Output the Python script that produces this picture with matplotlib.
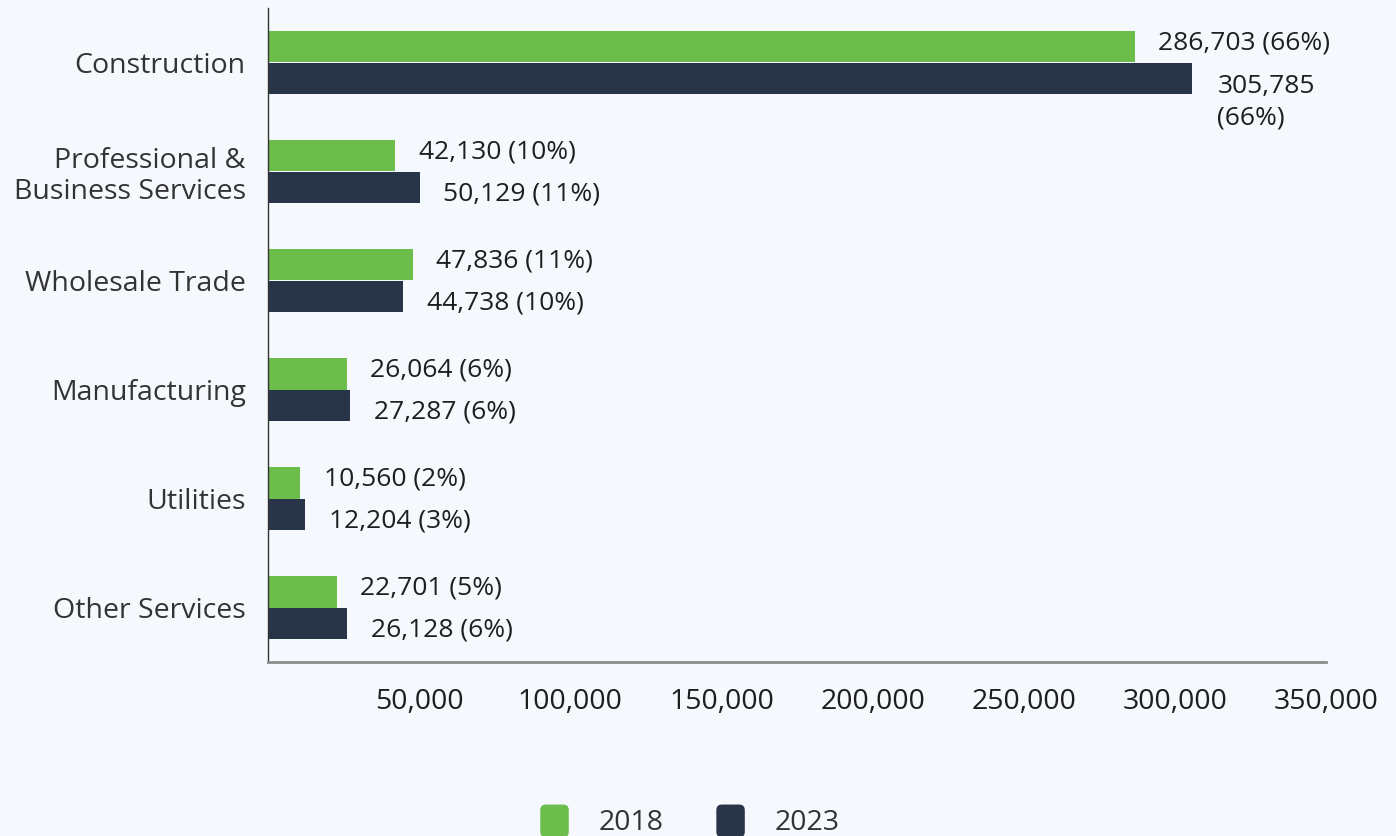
import matplotlib
matplotlib.use("Agg")
import matplotlib.pyplot as plt
import numpy as np
from matplotlib.patches import Patch, FancyBboxPatch
from matplotlib.legend_handler import HandlerPatch

categories = ["Construction", "Professional &\nBusiness Services", "Wholesale Trade",
              "Manufacturing", "Utilities", "Other Services"]
values_2018 = [286703, 42130, 47836, 26064, 10560, 22701]
values_2023 = [305785, 50129, 44738, 27287, 12204, 26128]
pct_2018 = [66, 10, 11, 6, 2, 5]
pct_2023 = [66, 11, 10, 6, 3, 6]
x_ticks = [50000, 100000, 150000, 200000, 250000, 300000, 350000]
series_names = ["2018", "2023"]

GREEN = "#6cbd4b"
NAVY = "#283447"
BG = "#f5f9fe"

plt.rcParams["font.family"] = ["Open Sans", "DejaVu Sans"]


class RoundedHandler(HandlerPatch):
    def create_artists(self, legend, orig_handle, xdescent, ydescent, width, height, fontsize, trans):
        p = FancyBboxPatch((-xdescent, -ydescent), width, height,
                           boxstyle="round,pad=0,rounding_size=4",
                           facecolor=orig_handle.get_facecolor(), edgecolor="none",
                           transform=trans)
        return [p]


fig = plt.figure(figsize=(13.96, 8.36), dpi=100, facecolor=BG)
ax = fig.add_axes([268 / 1396, 1 - 662 / 836, (1326 - 268) / 1396, (662 - 8) / 836])
ax.set_facecolor(BG)

y = np.arange(len(categories))
h = 0.285
ax.barh(y - h / 2, values_2018, height=h, color=GREEN, label=series_names[0])
ax.barh(y + h / 2, values_2023, height=h, color=NAVY, label=series_names[1])

ax.set_xlim(0, 350000)
ax.set_ylim(len(categories) - 0.5, -0.5)

# value labels to the right of each bar
label_kw = dict(textcoords="offset points", ha="left", fontsize=19, color="#1e1e1e")
for i in range(len(categories)):
    ax.annotate(f"{values_2018[i]:,} ({pct_2018[i]}%)", (values_2018[i], y[i] - h / 2),
                xytext=(17, 3), va="center", **label_kw)
    if values_2023[i] > 300000:
        ax.annotate(f"{values_2023[i]:,}\n({pct_2023[i]}%)", (values_2023[i], y[i] + h / 2),
                    xytext=(18, 3), va="top", linespacing=1.33, **label_kw)
    else:
        ax.annotate(f"{values_2023[i]:,} ({pct_2023[i]}%)", (values_2023[i], y[i] + h / 2),
                    xytext=(17, -5), va="center", **label_kw)

ax.set_yticks(y)
ax.set_yticklabels(categories, fontsize=20.5, color="#333333", linespacing=1.15)
ax.set_xticks(x_ticks)
ax.set_xticklabels([f"{v:,}" for v in x_ticks], fontsize=20.5, color="#1e1e1e")
ax.tick_params(axis="both", length=0)
ax.tick_params(axis="y", pad=16)
ax.tick_params(axis="x", pad=19)

for s in ["top", "right"]:
    ax.spines[s].set_visible(False)
ax.spines["left"].set_color("#333333")
ax.spines["left"].set_linewidth(1.0)
ax.spines["bottom"].set_color("#8c8c8c")
ax.spines["bottom"].set_linewidth(2.0)

handles = [Patch(facecolor=GREEN, edgecolor="none"), Patch(facecolor=NAVY, edgecolor="none")]
fig.legend(handles, series_names, loc="center", bbox_to_anchor=(0.5 - 8 / 1396, 1 - 821 / 836),
           ncol=2, frameon=False, fontsize=20.5, handlelength=1.0, handleheight=1.4,
           handletextpad=1.05, columnspacing=1.85, labelcolor="#333333",
           handler_map={Patch: RoundedHandler()})

fig.savefig("out.png", dpi=100, facecolor=BG)
